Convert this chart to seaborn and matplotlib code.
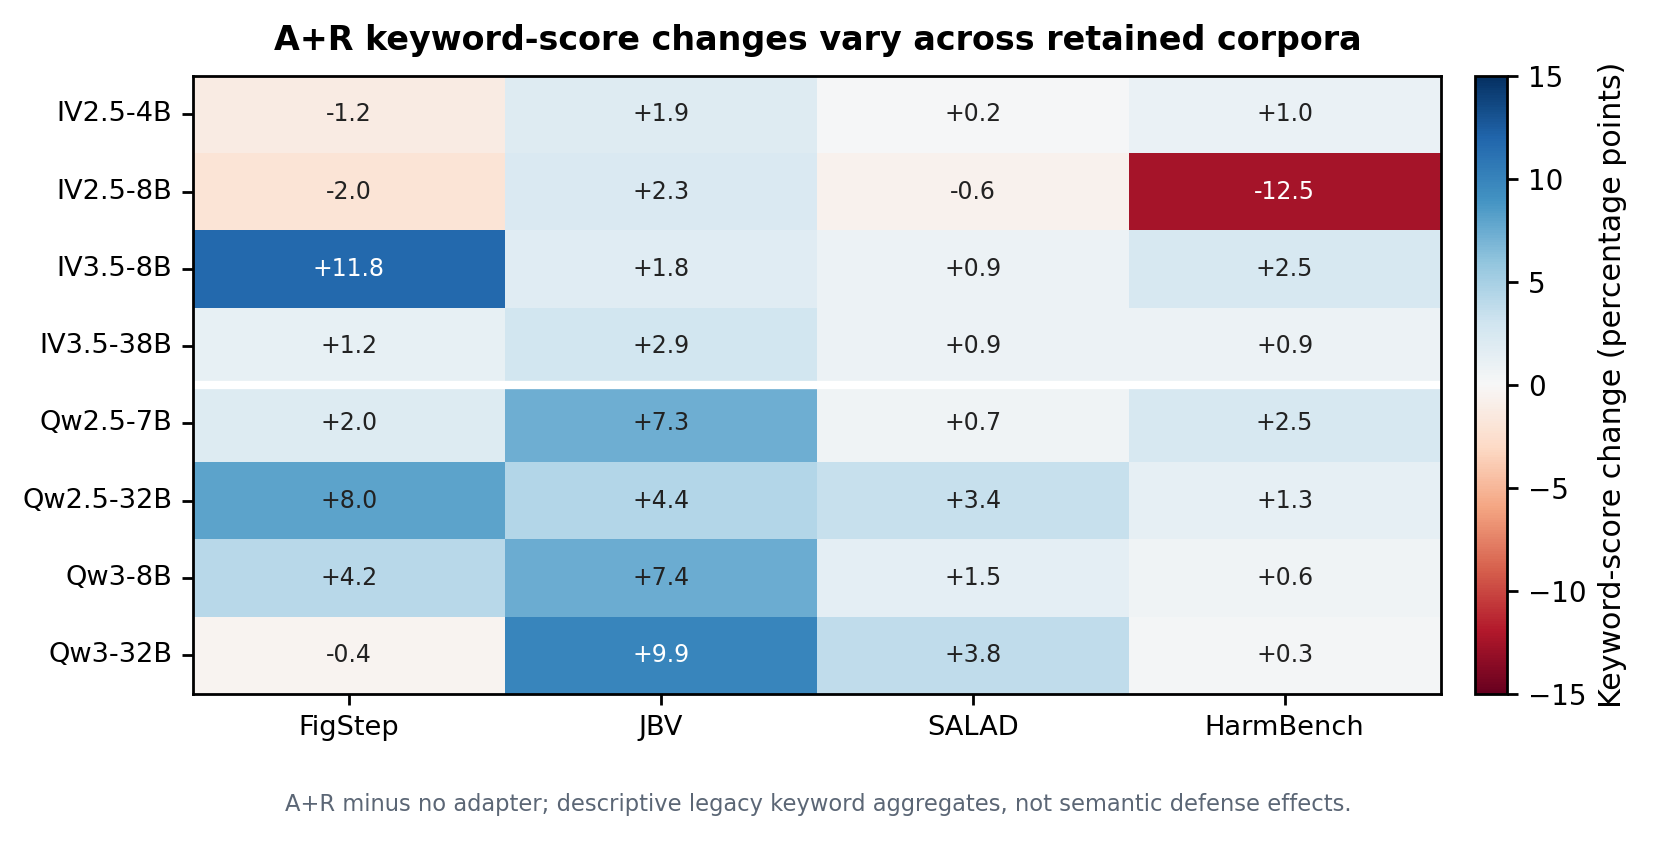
import numpy as np
import pandas as pd
import matplotlib
matplotlib.use("Agg")
import matplotlib.pyplot as plt
import seaborn as sns

# models (rows) and corpora (columns)
models = ["IV2.5-4B", "IV2.5-8B", "IV3.5-8B", "IV3.5-38B",
          "Qw2.5-7B", "Qw2.5-32B", "Qw3-8B", "Qw3-32B"]
corpora = ["FigStep", "JBV", "SALAD", "HarmBench"]

# A+R minus no adapter, keyword score change (pp)
figstep = [-1.2, -2.0, 11.8, 1.2, 2.0, 8.0, 4.2, -0.4]
jbv = [1.9, 2.3, 1.8, 2.9, 7.3, 4.4, 7.4, 9.9]
salad = [0.2, -0.6, 0.9, 0.9, 0.7, 3.4, 1.5, 3.8]
harmbench = [1.0, -12.5, 2.5, 0.9, 2.5, 1.3, 0.6, 0.3]

df = pd.DataFrame({"FigStep": figstep, "JBV": jbv, "SALAD": salad,
                   "HarmBench": harmbench}, index=models)[corpora]
labels = df.map(lambda v: f"{v:+.1f}")

plt.rcParams['font.family'] = ['DejaVu Sans']

fig = plt.figure(figsize=(8.27, 4.215), dpi=200)
ax = fig.add_axes([0.1167, 0.177, 0.7543, 0.733])
cax = fig.add_axes([0.892, 0.177, 0.0194, 0.733])

sns.heatmap(df, ax=ax, cbar_ax=cax, cmap="RdBu", vmin=-15, vmax=15, center=0,
            annot=labels, fmt="", annot_kws={"fontsize": 8.5})

# white text only on the strongest cells
vals = df.values.ravel()
for t, v in zip(ax.texts, vals):
    t.set_color("white" if abs(v) >= 9 else "#222222")

# white gap between the two model families
ax.axhline(4, color="white", linewidth=3)

for sp in ax.spines.values():
    sp.set_visible(True)
    sp.set_color("black")
    sp.set_linewidth(1.0)

ax.tick_params(axis="both", labelsize=9.8, length=4, width=1, color="black",
               left=True, bottom=True)
ax.set_yticklabels(models, rotation=0)
ax.set_xticklabels(corpora, rotation=0)
ax.set_xlabel("")
ax.set_ylabel("")

cbar = ax.collections[0].colorbar
cbar.set_ticks([-15, -10, -5, 0, 5, 10, 15])
cbar.ax.tick_params(labelsize=10, length=4, width=1)
cbar.outline.set_visible(True)
cbar.outline.set_edgecolor("black")
cbar.outline.set_linewidth(1.0)
cbar.set_label("Keyword-score change (percentage points)", fontsize=10.8)

fig.suptitle("A+R keyword-score changes vary across retained corpora",
             fontsize=12, fontweight="bold", x=0.4945, y=0.972)
fig.text(0.4946, 0.046,
         "A+R minus no adapter; descriptive legacy keyword aggregates, not semantic defense effects.",
         ha="center", va="center", fontsize=8.15, color="#5b6675")

fig.savefig("out.png", dpi=200)
